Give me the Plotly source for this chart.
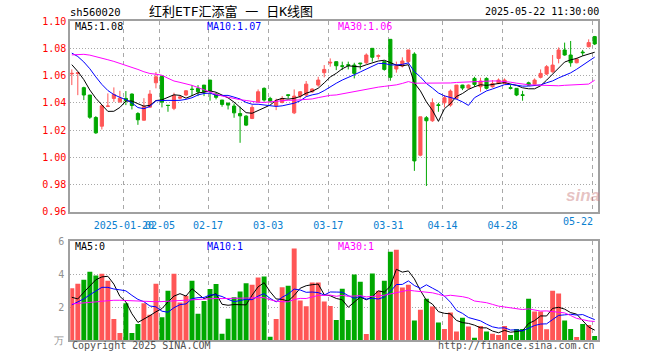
import plotly.graph_objects as go

# ---------------- data ----------------
dates = (
    ["2025-01-%02d" % d for d in [7, 8, 9, 10, 13, 14, 15, 16, 17, 20, 21, 22, 23, 24, 27]]
    + ["2025-02-%02d" % d for d in [5, 6, 7, 10, 11, 12, 13, 14, 17, 18, 19, 20, 21, 24, 25, 26, 27, 28]]
    + ["2025-03-%02d" % d for d in [3, 4, 5, 6, 7, 10, 11, 12, 13, 14, 17, 18, 19, 20, 21, 24, 25, 26, 27, 28, 31]]
    + ["2025-04-%02d" % d for d in [1, 2, 3, 7, 8, 9, 10, 11, 14, 15, 16, 17, 18, 21, 22, 23, 24, 25, 28, 29, 30]]
    + ["2025-05-%02d" % d for d in [6, 7, 8, 9, 12, 13, 14, 15, 16, 19, 20, 21, 22]]
)

opens = [1.0612, 1.0615, 1.0511, 1.0457, 1.0292, 1.0228, 1.0374, 1.0432, 1.0407, 1.0432,
         1.0464, 1.0321, 1.0272, 1.0368, 1.0547, 1.0596, 1.0382, 1.0359, 1.0434, 1.0457,
         1.0500, 1.0506, 1.0530, 1.0567, 1.0464, 1.0420, 1.0398, 1.0376, 1.0321, 1.0302,
         1.0285, 1.0408, 1.0506, 1.0432, 1.0379, 1.0403, 1.0459, 1.0326, 1.0449, 1.0457,
         1.0481, 1.0530, 1.0621, 1.0692, 1.0702, 1.0672, 1.0680, 1.0677, 1.0692, 1.0694,
         1.0800, 1.0741, 1.0702, 1.0866, 1.0648, 1.0670, 1.0702, 1.0758, 1.0015, 1.0290,
         1.0268, 1.0385, 1.0400, 1.0383, 1.0432, 1.0530, 1.0508, 1.0579, 1.0518, 1.0579,
         1.0518, 1.0542, 1.0542, 1.0511, 1.0506, 1.0459, 1.0547, 1.0537, 1.0587, 1.0611,
         1.0628, 1.0726, 1.0788, 1.0751, 1.0694, 1.0773, 1.0812, 1.0886]
highs = [1.0645, 1.0628, 1.0518, 1.0457, 1.0302, 1.0383, 1.0469, 1.0513, 1.0488, 1.0486,
         1.0469, 1.0331, 1.0434, 1.0493, 1.0626, 1.0596, 1.0382, 1.0474, 1.0449, 1.0493,
         1.0530, 1.0530, 1.0530, 1.0567, 1.0474, 1.0420, 1.0398, 1.0395, 1.0371, 1.0309,
         1.0383, 1.0498, 1.0513, 1.0444, 1.0430, 1.0449, 1.0461, 1.0498, 1.0486, 1.0560,
         1.0506, 1.0591, 1.0677, 1.0726, 1.0702, 1.0702, 1.0702, 1.0694, 1.0692, 1.0763,
         1.0800, 1.0756, 1.0709, 1.0866, 1.0702, 1.0734, 1.0788, 1.0771, 1.0297, 1.0302,
         1.0432, 1.0400, 1.0457, 1.0498, 1.0530, 1.0532, 1.0535, 1.0591, 1.0584, 1.0587,
         1.0567, 1.0579, 1.0579, 1.0530, 1.0506, 1.0488, 1.0555, 1.0579, 1.0645, 1.0677,
         1.0751, 1.0807, 1.0842, 1.0854, 1.0731, 1.0788, 1.0866, 1.0891]
lows = [1.0530, 1.0456, 1.0420, 1.0282, 1.0172, 1.0204, 1.0368, 1.0407, 1.0400, 1.0383,
        1.0351, 1.0238, 1.0270, 1.0363, 1.0506, 1.0366, 1.0334, 1.0346, 1.0425, 1.0449,
        1.0449, 1.0449, 1.0449, 1.0415, 1.0425, 1.0371, 1.0351, 1.0290, 1.0106, 1.0229,
        1.0280, 1.0400, 1.0408, 1.0400, 1.0346, 1.0396, 1.0430, 1.0317, 1.0432, 1.0444,
        1.0474, 1.0518, 1.0587, 1.0665, 1.0640, 1.0640, 1.0645, 1.0579, 1.0645, 1.0685,
        1.0702, 1.0719, 1.0636, 1.0562, 1.0621, 1.0660, 1.0690, 0.9900, 1.0007, 0.9789,
        1.0260, 1.0334, 1.0366, 1.0371, 1.0425, 1.0493, 1.0503, 1.0518, 1.0481, 1.0498,
        1.0511, 1.0537, 1.0537, 1.0498, 1.0449, 1.0415, 1.0525, 1.0535, 1.0579, 1.0604,
        1.0621, 1.0690, 1.0746, 1.0665, 1.0690, 1.0744, 1.0807, 1.0824]
closes = [1.0616, 1.0620, 1.0457, 1.0294, 1.0179, 1.0378, 1.0376, 1.0461, 1.0434, 1.0415,
          1.0380, 1.0275, 1.0373, 1.0464, 1.0591, 1.0405, 1.0380, 1.0454, 1.0442, 1.0488,
          1.0498, 1.0481, 1.0481, 1.0488, 1.0440, 1.0388, 1.0383, 1.0326, 1.0304, 1.0236,
          1.0366, 1.0481, 1.0420, 1.0413, 1.0415, 1.0432, 1.0454, 1.0449, 1.0481, 1.0537,
          1.0501, 1.0567, 1.0645, 1.0697, 1.0672, 1.0668, 1.0675, 1.0616, 1.0687, 1.0751,
          1.0734, 1.0746, 1.0645, 1.0587, 1.0672, 1.0707, 1.0788, 0.9973, 1.0297, 1.0268,
          1.0400, 1.0380, 1.0437, 1.0486, 1.0530, 1.0508, 1.0530, 1.0535, 1.0560, 1.0506,
          1.0542, 1.0567, 1.0567, 1.0506, 1.0457, 1.0454, 1.0530, 1.0567, 1.0616, 1.0665,
          1.0677, 1.0788, 1.0751, 1.0694, 1.0721, 1.0768, 1.0842, 1.0832]
volumes = [3.15, 3.41, 3.66, 4.14, 3.92, 4.02, 3.60, 1.29, 0.44, 2.24,
           0.44, 0.99, 2.24, 1.54, 3.41, 1.39, 2.99, 4.02, 2.28, 2.69,
           3.60, 1.60, 2.38, 3.10, 3.40, 0.40, 1.30, 2.60, 2.95, 3.45,
           3.35, 3.80, 3.85, 0.22, 1.28, 3.20, 3.30, 5.55, 2.40, 2.05,
           3.50, 3.49, 2.34, 2.08, 1.23, 3.11, 1.23, 3.98, 3.54, 0.38,
           4.04, 2.99, 3.60, 5.35, 5.47, 3.19, 3.35, 1.19, 1.84, 2.51,
           2.04, 1.07, 0.69, 1.68, 0.53, 1.37, 0.83, 0.16, 0.87, 0.53,
           0.40, 0.32, 0.87, 0.32, 0.69, 0.69, 2.51, 1.74, 1.74, 0.67,
           2.99, 2.83, 1.19, 0.69, 0.20, 0.99, 0.93, 0.26]

# moving-average values at the start of the window (need days before the chart)
ma5_head = [1.0680, 1.0630, 1.0570, 1.0494]
ma10_head = [1.0765, 1.0740, 1.0700, 1.0650, 1.0590, 1.0535, 1.0490, 1.0460, 1.0440]
ma30_head = [1.0752, 1.0756, 1.0756, 1.0750, 1.0740, 1.0728, 1.0716, 1.0704, 1.0690, 1.0676,
             1.0662, 1.0645, 1.0628, 1.0615, 1.0610, 1.0602, 1.0580, 1.0560, 1.0550, 1.0540,
             1.0528, 1.0512, 1.0494, 1.0478, 1.0462, 1.0450, 1.0440, 1.0430, 1.0423]
vma5_head = [2.60, 2.50, 2.90, 3.30]
vma10_head = [2.14, 2.30, 2.50, 2.75, 2.95, 3.20, 3.20, 3.10, 3.05]
vma30_head = [2.20, 2.22, 2.25, 2.28, 2.32, 2.36, 2.40, 2.42, 2.42, 2.40,
              2.38, 2.36, 2.34, 2.33, 2.33, 2.34, 2.36, 2.40, 2.43, 2.46,
              2.48, 2.50, 2.52, 2.53, 2.53, 2.52, 2.52, 2.53, 2.55]

tick_dates = ["2025-01-20", "2025-02-05", "2025-02-17", "2025-03-03", "2025-03-17",
              "2025-03-31", "2025-04-14", "2025-04-28", "2025-05-22"]
tick_labels = ["2025-01-20", "02-05", "02-17", "03-03", "03-17", "03-31", "04-14", "04-28", "05-22"]
price_ticks = [0.96, 0.98, 1.00, 1.02, 1.04, 1.06, 1.08, 1.10]
vol_ticks = [0, 2, 4, 6]
vol_tick_labels = ["万", "2", "4", "6"]

title_code = "sh560020"
title_name = "红利ETF汇添富 一 日K线图"
title_time = "2025-05-22 11:30:00"


def moving_average(values, n, head):
    out = list(head)
    for i in range(len(head), len(values)):
        window = values[i - n + 1:i + 1]
        out.append(sum(window) / n)
    return out


N = len(dates)
xs = list(range(N))
ma5 = moving_average(closes, 5, ma5_head)
ma10 = moving_average(closes, 10, ma10_head)
ma30 = moving_average(closes, 30, ma30_head)
vma5 = moving_average(volumes, 5, vma5_head)
vma10 = moving_average(volumes, 10, vma10_head)
vma30 = moving_average(volumes, 30, vma30_head)

RED = "#ff5656"
GREEN = "#00a800"
MONO = "DejaVu Sans Mono"

tick_pos = [dates.index(d) - 0.33 for d in tick_dates]

fig = go.Figure()
fig.add_trace(go.Candlestick(
    x=xs, open=opens, high=highs, low=lows, close=closes,
    increasing=dict(line=dict(color=RED, width=1), fillcolor=RED),
    decreasing=dict(line=dict(color=GREEN, width=1), fillcolor=GREEN),
    xaxis="x", yaxis="y", showlegend=False, hoverinfo="skip"))
for vals, col in [(ma5, "#000000"), (ma10, "#0000ff"), (ma30, "#ff00ff")]:
    fig.add_trace(go.Scatter(x=xs, y=vals, mode="lines", line=dict(color=col, width=1),
                             xaxis="x", yaxis="y", showlegend=False, hoverinfo="skip"))

vol_colors = [RED if c >= o else GREEN for o, c in zip(opens, closes)]
fig.add_trace(go.Bar(x=xs, y=volumes, marker=dict(color=vol_colors, line=dict(width=0)),
                     width=0.82, xaxis="x2", yaxis="y2", showlegend=False, hoverinfo="skip"))
for vals, col in [(vma5, "#000000"), (vma10, "#0000ff"), (vma30, "#ff00ff")]:
    fig.add_trace(go.Scatter(x=xs, y=vals, mode="lines", line=dict(color=col, width=1),
                             xaxis="x2", yaxis="y2", showlegend=False, hoverinfo="skip"))

W, H = 660, 360
x_dom = [70.3 / W, 597.7 / W]
xrange = [-0.25, 87.5]
grid_col = "#a8a8a8"
frame_col = "#a0a0a0"

common_x = dict(range=xrange, domain=x_dom, showline=True, mirror=True, linecolor=frame_col,
                linewidth=2, tickmode="array", tickvals=tick_pos, showgrid=True,
                gridcolor=grid_col, gridwidth=1, griddash="4px,4px", zeroline=False,
                ticks="", fixedrange=True, automargin=False, tickangle=0)

fig.update_layout(
    width=W, height=H, margin=dict(l=0, r=0, t=0, b=0, autoexpand=False),
    paper_bgcolor="white", plot_bgcolor="white",
    boxgap=0.25, bargap=0.18,
    xaxis=dict(**common_x, anchor="y", ticktext=tick_labels[:-1] + [""],
               tickfont=dict(family=MONO, size=10, color="#0a80d0"),
               ticklabelstandoff=3, rangeslider=dict(visible=False)),
    xaxis2=dict(**common_x, anchor="y2", showticklabels=False),
    yaxis=dict(domain=[1 - 211.7 / H, 1 - 21.1 / H], range=[0.96, 1.10], tickmode="array",
               tickvals=price_ticks, ticktext=["%.2f" % v for v in price_ticks],
               tickfont=dict(family=MONO, size=10, color="#ff0000"),
               showgrid=True, gridcolor=grid_col, griddash="1px,2px", zeroline=False,
               showline=True, mirror=True, linecolor=frame_col, linewidth=2,
               ticks="", ticklabelstandoff=0, anchor="x", fixedrange=True, automargin=False),
    yaxis2=dict(domain=[1 - 340.3 / H, 1 - 241 / H], range=[0, 6], tickmode="array",
                tickvals=vol_ticks, ticktext=vol_tick_labels,
                tickfont=dict(family=MONO, size=10, color="#909090"),
                showgrid=True, gridcolor=grid_col, griddash="1px,2px", zeroline=False,
                showline=True, mirror=True, linecolor=frame_col, linewidth=2,
                ticks="", ticklabelstandoff=2, anchor="x2", fixedrange=True, automargin=False),
)

def px(xp, yp, text, color, size=10, anchor="left", family=MONO, **kw):
    fig.add_annotation(x=xp / W, y=1 - yp / H, xref="paper", yref="paper", text=text,
                       showarrow=False, xanchor=anchor, yanchor="middle",
                       font=dict(family=family, size=size, color=color), **kw)

px(68, 12, title_code, "#000000", 10.5)
px(231, 12, title_name, "#000000", 13, anchor="center",
   family="DejaVu Sans Mono, Noto Sans CJK SC")
px(601, 12, title_time, "#000000", 10, anchor="right")

px(73, 26.5, "MA5:%.2f" % ma5[-1], "#000000")
px(205, 26.5, "MA10:%.2f" % ma10[-1], "#0000ff")
px(336, 26.5, "MA30:%.2f" % ma30[-1], "#ff00ff")

px(73, 246.5, "MA5:%d" % int(vma5[-1]), "#000000")
px(205, 246.5, "MA10:%d" % int(vma10[-1]), "#0000ff")
px(336, 246.5, "MA30:%d" % int(vma30[-1]), "#ff00ff")

px(595, 221.5, tick_labels[-1], "#0a80d0", anchor="right")

px(70, 345.5, "Copyright 2025 SINA.COM", "#505050")
px(597, 345.5, "http://finance.sina.com.cn", "#505050", anchor="right")

px(583, 196, "<b><i>sina</i></b>", "rgba(200,120,120,0.45)", 17, anchor="center",
   family="Liberation Sans")

fig.write_html("out.html", config={"displayModeBar": False},
               post_script="document.body.style.margin='0';document.body.style.overflow='hidden';")
